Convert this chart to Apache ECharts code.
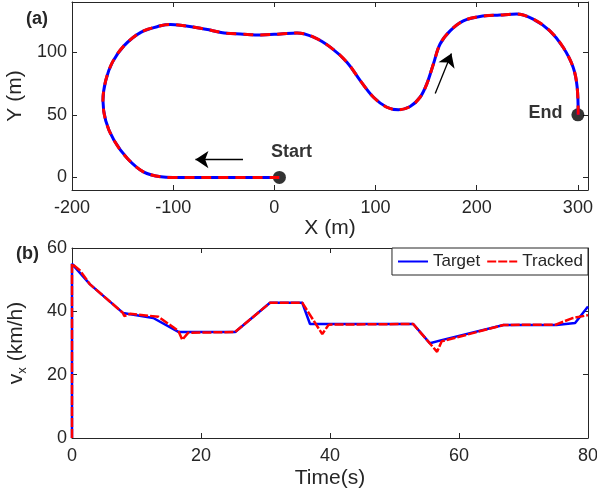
<!DOCTYPE html>
<html>
<head>
<meta charset="utf-8">
<script src="https://cdn.jsdelivr.net/npm/echarts@6/dist/echarts.min.js"></script>
<style>
  html, body { margin: 0; padding: 0; background: #fff; }
  #main { width: 597px; height: 499px; }
</style>
</head>
<body>
<div id="main"></div>
<script>
// trajectory (a)
var trajX = [5, -50, -100, -112, -129, -145, -158.5, -166.7, -169.4, -166.7, -160, -148.7, -132, -112.5, -102.6, -73, -46.7, -33.5, -13.8, 6, 22.4, 38.8, 55.3, 71.7, 84.9, 98, 111.2, 122.6, 134.2, 144, 150.7, 157.2, 163.8, 173.7, 186.8, 203.3, 223, 239.5, 255.8, 272.3, 285.4, 295.3, 299.3, 300.3];
var trajY = [0, 0, 0, 0.5, 4.3, 15, 29.6, 45.4, 61.4, 77.3, 92, 105, 115.8, 121, 122, 119, 115, 114.5, 113.7, 114.5, 115.3, 112, 104, 92, 77.3, 64, 56, 54, 56.6, 64, 74.7, 90.6, 106.5, 117, 125, 128.5, 129.6, 130.4, 126.4, 117, 103.9, 88, 72, 50];

// speed (b)
var targetT = [0, 0, 2.8, 7.9, 12.6, 16.5, 25.3, 30.7, 35.7, 36.9, 52.9, 55.5, 57.3, 66.9, 75.1, 78, 80];
var targetV = [0, 55, 48.5, 39.5, 37.9, 33.5, 33.5, 42.7, 42.7, 36, 36, 29.9, 30.9, 35.7, 35.7, 36.3, 41.5];
var trackedT = [0, 0, 1.2, 2.8, 7.9, 8.1, 9, 13.4, 16.5, 17.1, 18, 25.3, 30.7, 35.7, 38.8, 39.8, 52.9, 56.6, 57.3, 66.9, 75, 77.5, 80];
var trackedV = [0, 55, 53, 48.5, 39.5, 38.5, 39.2, 38.3, 33.8, 31, 33.2, 33.5, 42.7, 42.7, 32.8, 35.8, 36, 27.2, 30.5, 35.7, 35.8, 37.8, 38.8];

var startPt = [5, 0];
var endPt = [300, 50];

function zip(a, b) {
  return a.map(function (v, i) { return [v, b[i]]; });
}

var ink = '#262626';
var font = 'Liberation Sans, Arial, sans-serif';

function axisBase(extra) {
  var o = {
    type: 'value',
    axisLine: { show: true, onZero: false, lineStyle: { color: ink, width: 1 } },
    axisTick: { show: true, inside: true, length: 5, lineStyle: { color: ink } },
    axisLabel: { color: ink, fontSize: 18, fontFamily: font },
    splitLine: { show: false },
    nameTextStyle: { color: ink, fontSize: 21, fontFamily: font }
  };
  for (var k in extra) o[k] = extra[k];
  return o;
}

var chart = echarts.init(document.getElementById('main'));

chart.setOption({
  animation: false,
  backgroundColor: '#fff',
  title: [
    { text: '(a)', left: 21, top: 5, textStyle: { fontSize: 18, fontWeight: 'bold', color: ink, fontFamily: font } },
    { text: '(b)', left: 11, top: 240, textStyle: { fontSize: 18, fontWeight: 'bold', color: ink, fontFamily: font } }
  ],
  grid: [
    { left: 72, right: 9, top: 2, height: 188, outerBoundsMode: 'none', containLabel: false },
    { left: 72, right: 9, top: 248, height: 190, outerBoundsMode: 'none', containLabel: false }
  ],
  legend: {
    data: ['Target', 'Tracked'],
    right: 9,
    top: 248,
    orient: 'horizontal',
    itemWidth: 30,
    itemHeight: 12,
    itemGap: 6,
    padding: [5, 5, 5, 5],
    borderColor: ink,
    borderWidth: 1,
    backgroundColor: '#fff',
    itemStyle: { opacity: 0 },
    textStyle: { color: ink, fontSize: 17, fontFamily: font }
  },
  xAxis: [
    axisBase({ gridIndex: 0, min: -200, max: 310, interval: 100, position: 'bottom',
      name: 'X (m)', nameLocation: 'middle', nameGap: 25,
      axisLabel: { color: ink, fontSize: 18, fontFamily: font, margin: 9, showMaxLabel: false } }),
    axisBase({ gridIndex: 0, min: -200, max: 310, interval: 100, position: 'top',
      axisLabel: { show: false } }),
    axisBase({ gridIndex: 1, min: 0, max: 80, interval: 20, position: 'bottom',
      name: 'Time(s)', nameLocation: 'middle', nameGap: 30,
      axisLabel: { color: ink, fontSize: 18, fontFamily: font, margin: 9 } }),
    axisBase({ gridIndex: 1, min: 0, max: 80, interval: 20, position: 'top',
      axisLabel: { show: false } })
  ],
  yAxis: [
    axisBase({ gridIndex: 0, min: -10, max: 140, position: 'left',
      name: 'Y (m)', nameLocation: 'middle', nameGap: 41, nameRotate: 90,
      axisTick: { show: true, inside: true, length: 5, lineStyle: { color: ink }, customValues: [0, 50, 100] },
      axisLabel: { color: ink, fontSize: 18, fontFamily: font, margin: 5, customValues: [0, 50, 100] } }),
    axisBase({ gridIndex: 0, min: -10, max: 140, position: 'right',
      axisTick: { show: true, inside: true, length: 5, lineStyle: { color: ink }, customValues: [0, 50, 100] },
      axisLabel: { show: false } }),
    axisBase({ gridIndex: 1, min: 0, max: 60, interval: 20, position: 'left',
      name: '{m|v}{s|x}{m| (km/h)}', nameLocation: 'middle', nameGap: 43, nameRotate: 90,
      nameTextStyle: {
        color: ink, fontSize: 21, fontFamily: font,
        rich: {
          m: { fontSize: 21, fontFamily: font, color: ink, lineHeight: 26, verticalAlign: 'middle' },
          s: { fontSize: 13, fontFamily: font, color: ink, lineHeight: 12, verticalAlign: 'bottom' }
        }
      },
      axisLabel: { color: ink, fontSize: 18, fontFamily: font, margin: 5 } }),
    axisBase({ gridIndex: 1, min: 0, max: 60, interval: 20, position: 'right',
      axisLabel: { show: false } })
  ],
  series: [
    {
      name: 'trajTarget', type: 'line', xAxisIndex: 0, yAxisIndex: 0,
      data: zip(trajX, trajY), smooth: 0.35, symbol: 'none',
      lineStyle: { color: '#0000ff', width: 3 }
    },
    {
      name: 'trajTracked', type: 'line', xAxisIndex: 0, yAxisIndex: 0,
      data: zip(trajX, trajY), smooth: 0.35, symbol: 'none',
      lineStyle: { color: '#ff0000', width: 3, type: [10, 7] }
    },
    {
      name: 'marks', type: 'scatter', xAxisIndex: 0, yAxisIndex: 0,
      symbolSize: 13, itemStyle: { color: '#000' },
      data: [
        { value: startPt, label: { show: true, formatter: 'Start', position: 'top', offset: [12, -5] } },
        { value: endPt, label: { show: true, formatter: 'End', position: 'left', offset: [-4, -2] } }
      ],
      label: { color: '#000', fontSize: 18, fontWeight: 'bold', fontFamily: font },
      markLine: {
        silent: true,
        symbol: ['none', 'arrow'],
        symbolSize: 13,
        label: { show: false },
        lineStyle: { color: '#000', width: 1.3, type: 'solid' },
        data: [
          [{ coord: [-31, 14.3] }, { coord: [-78, 14.3] }],
          [{ coord: [159, 67] }, { coord: [175, 99] }]
        ]
      }
    },
    {
      name: 'Target', type: 'line', xAxisIndex: 2, yAxisIndex: 2,
      data: zip(targetT, targetV), symbol: 'none',
      lineStyle: { color: '#0000ff', width: 2.5 },
      itemStyle: { color: '#0000ff' }
    },
    {
      name: 'Tracked', type: 'line', xAxisIndex: 2, yAxisIndex: 2,
      data: zip(trackedT, trackedV), symbol: 'none',
      lineStyle: { color: '#ff0000', width: 2.5, type: [9, 2] },
      itemStyle: { color: '#ff0000' }
    }
  ]
});
</script>
</body>
</html>
